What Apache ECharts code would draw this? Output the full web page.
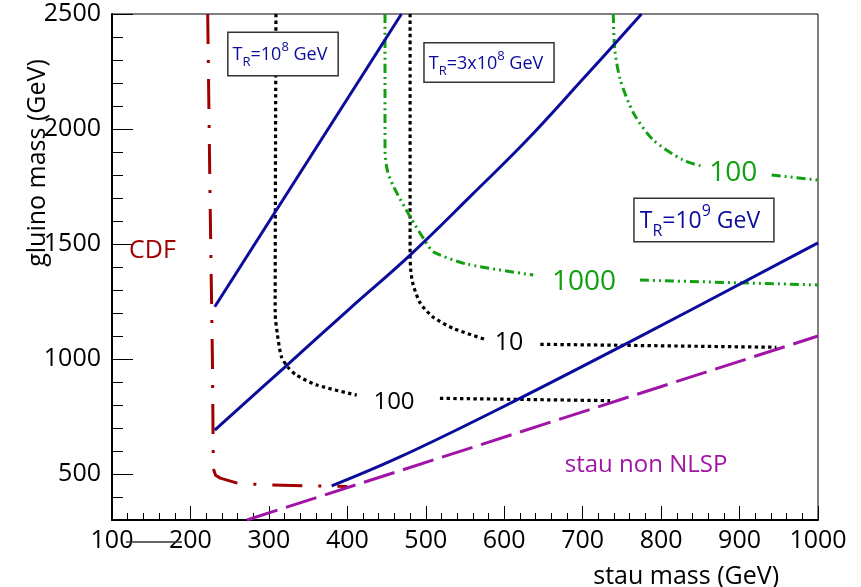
<!DOCTYPE html>
<html>
<head>
<meta charset="utf-8">
<script src="https://cdn.jsdelivr.net/npm/echarts@6/dist/echarts.min.js"></script>
<style>
  html, body { margin: 0; padding: 0; background: #fff; }
  #chart { width: 861px; height: 587px; }
</style>
</head>
<body>
<div id="chart"></div>
<script>
// Gluino mass vs stau mass plane, all values in GeV: [stau mass, gluino mass]
const cdfBound = [[222, 2500], [225, 1700], [228, 1000], [229, 600], [229, 525], [232, 495], [238, 482], [260, 460], [300, 452], [350, 448], [400, 446]];
const tr1e8 = [[231, 1227], [469, 2500]];
const tr3e8 = [[231, 691], [320, 964], [401, 1213], [480, 1452], [560, 1718], [629, 1952], [700, 2216], [775, 2500]];
const tr1e9 = [[380, 448], [467, 574], [595, 786], [765, 1083], [1000, 1505]];
const stauNonNlsp = [[272, 300], [1000, 1100]];

// dotted contours (label "100" and "10"), split where the label sits
const dot100Left = [[309, 2500], [308, 1200], [311, 1104], [316, 1010], [324, 965], [335, 930], [361, 887], [412, 843]];
const dot100Right = [[518, 829], [735, 819]];
const dot10Left = [[480, 2500], [480, 1452], [481, 1380], [484, 1322], [493, 1243], [509, 1183], [535, 1133], [578, 1083]];
const dot10Right = [[646, 1064], [947, 1051]];

// dash-dot-dot contours (label "1000" and "100")
const green1000Left = [[448, 2500], [448, 1909], [451, 1820], [459, 1749], [480, 1619], [501, 1503], [510, 1465], [552, 1413], [637, 1365]];
const green1000Right = [[773, 1343], [892, 1332], [1000, 1322]];
const green100Left = [[739, 2500], [741, 2343], [748, 2213], [765, 2068], [790, 1952], [828, 1865], [854, 1836]];
const green100Right = [[941, 1800], [1000, 1778]];

// axis tick values
const yLabelValues = [500, 1000, 1500, 2000, 2500];

// annotations anchored in data coordinates
const noteTexts = ['CDF', 'stau non NLSP', '100', '1000', '100', '10'];
const noteX = [151.6, 780.8, 892.1, 701.7, 459.5, 606.1];
const noteY = [1470, 539, 1809, 1335, 811, 1068];

// reheating-temperature boxes: [mantissa prefix, exponent]
const boxPrefix = ['10', '3x10', '10'];
const boxExponent = ['8', '8', '9'];
const boxX = [318.0, 580.6, 854.6];
const boxY = [2326, 2289, 1604];

const FONT = 'Open Sans';
const RED = '#a00000', BLUE = '#0c0c9c', GREEN = '#12a012', MAGENTA = '#a015a6', BLACK = '#000';

function curve(data, color, width, dash, smooth) {
  return {
    type: 'line', data: data, showSymbol: false, symbol: 'none',
    smooth: smooth || false, silent: true, z: 3,
    lineStyle: { color: color, width: width, type: dash, cap: 'butt', join: 'round' }
  };
}

const noteStyles = [
  { color: RED, fontSize: 25 },
  { color: MAGENTA, fontSize: 24 },
  { color: GREEN, fontSize: 28 },
  { color: GREEN, fontSize: 28 },
  { color: BLACK, fontSize: 24 },
  { color: BLACK, fontSize: 25 }
];

const boxStyles = [
  { main: 18, small: 13, line: 28, supLine: 13, subLine: 15, padding: [8, 10, 6, 4] },
  { main: 18, small: 13, line: 28, supLine: 13, subLine: 15, padding: [6, 10, 4, 4] },
  { main: 23, small: 16, line: 36, supLine: 21, subLine: 16, padding: [4, 13, 2, 5] }
];

const DASH_CDF = [30, 16, 3, 16];
const DASH_DOT = [3.4, 3.3];
const DASH_GREEN = [9, 4, 2, 4, 2, 4];
const DASH_LONG = [32, 9];

const series = [
  curve(cdfBound, RED, 3, DASH_CDF),
  curve(stauNonNlsp, MAGENTA, 3, DASH_LONG),
  curve(dot100Left, BLACK, 3.2, DASH_DOT, 0.25),
  curve(dot100Right, BLACK, 3.2, DASH_DOT),
  curve(dot10Left, BLACK, 3.2, DASH_DOT, 0.25),
  curve(dot10Right, BLACK, 3.2, DASH_DOT),
  curve(green1000Left, GREEN, 3, DASH_GREEN, 0.25),
  curve(green1000Right, GREEN, 3, DASH_GREEN),
  curve(green100Left, GREEN, 3, DASH_GREEN, 0.25),
  curve(green100Right, GREEN, 3, DASH_GREEN),
  curve(tr1e8, BLUE, 3, 'solid'),
  curve(tr3e8, BLUE, 3, 'solid', 0.4),
  curve(tr1e9, BLUE, 3, 'solid', 0.4)
];

noteTexts.forEach(function (t, i) {
  const st = noteStyles[i];
  series.push({
    type: 'scatter', silent: true, z: 10, symbolSize: 0,
    itemStyle: { color: st.color },
    data: [{ value: [noteX[i], noteY[i]] }],
    label: {
      show: true, position: 'inside', formatter: t, opacity: 1,
      color: st.color, fontSize: st.fontSize, fontFamily: FONT,
      textBorderWidth: 0, textBorderColor: 'transparent', textShadowBlur: 0
    }
  });
});

boxPrefix.forEach(function (p, i) {
  const st = boxStyles[i];
  series.push({
    type: 'scatter', silent: true, z: 12, symbolSize: 0,
    itemStyle: { color: BLUE },
    data: [{ value: [boxX[i], boxY[i]] }],
    label: {
      show: true, position: 'inside', opacity: 1,
      formatter: '{m|T}{sub|R}{m|=' + p + '}{sup|' + boxExponent[i] + '}{m| GeV}',
      backgroundColor: '#fff', borderColor: '#333', borderWidth: 1.5,
      padding: st.padding, textBorderWidth: 0, textBorderColor: 'transparent',
      rich: {
        m: { fontSize: st.main, fontFamily: FONT, color: BLUE, lineHeight: st.line, verticalAlign: 'middle', textBorderWidth: 0 },
        sub: { fontSize: st.small, fontFamily: FONT, color: BLUE, lineHeight: st.subLine, verticalAlign: 'bottom', textBorderWidth: 0 },
        sup: { fontSize: st.small, fontFamily: FONT, color: BLUE, lineHeight: st.supLine, verticalAlign: 'top', textBorderWidth: 0 }
      }
    }
  });
});

const chart = echarts.init(document.getElementById('chart'), null, { renderer: 'canvas' });
chart.setOption({
  animation: false,
  backgroundColor: '#fff',
  grid: {
    left: 112, right: 43, top: 14, bottom: 67,
    containLabel: false, outerBoundsMode: 'none',
    show: true, borderColor: '#000', borderWidth: 1, backgroundColor: '#fff'
  },
  xAxis: {
    type: 'value', min: 100, max: 1000, interval: 100,
    axisLine: { show: true, onZero: false, lineStyle: { color: '#000', width: 2 } },
    axisTick: { show: true, inside: true, length: 14, lineStyle: { color: '#000', width: 1 } },
    minorTick: { show: true, splitNumber: 5, length: 7, lineStyle: { color: '#000', width: 1 } },
    splitLine: { show: false },
    axisLabel: {
      show: true, margin: 8, color: '#000', fontSize: 25, fontFamily: FONT,
      showMinLabel: true, showMaxLabel: true, hideOverlap: false,
      formatter: function (v) { return String(v); }
    }
  },
  yAxis: [
    {
      type: 'value', min: 300, max: 2500, interval: 100,
      axisLine: { show: true, onZero: false, lineStyle: { color: '#000', width: 2 } },
      axisTick: { show: true, inside: true, length: 11, lineStyle: { color: '#000', width: 1 } },
      splitLine: { show: false },
      axisLabel: {
        show: true, margin: 11, color: '#000', fontSize: 25, fontFamily: FONT,
        showMinLabel: true, showMaxLabel: true, hideOverlap: false,
        formatter: function (v) { return yLabelValues.indexOf(v) >= 0 ? String(v) : ''; }
      }
    },
    {
      type: 'value', min: 300, max: 2500, position: 'left', offset: 0,
      axisLine: { show: false },
      axisTick: { show: true, inside: true, length: 21, customValues: yLabelValues, lineStyle: { color: '#000', width: 1 } },
      axisLabel: { show: false },
      splitLine: { show: false }
    }
  ],
  graphic: [
    {
      type: 'text', x: 38, y: 163, rotation: Math.PI / 2, z: 20,
      style: { text: 'gluino mass (GeV)', fontSize: 25, fontFamily: FONT, fill: '#000',
               align: 'center', verticalAlign: 'middle', textAlign: 'center', textVerticalAlign: 'middle' }
    },
    {
      type: 'text', x: 779, y: 577, z: 20,
      style: { text: 'stau mass (GeV)', fontSize: 25, fontFamily: FONT, fill: '#000',
               align: 'right', verticalAlign: 'middle', textAlign: 'right', textVerticalAlign: 'middle' }
    },
    {
      type: 'line', z: 20,
      shape: { x1: 126, y1: 542, x2: 182, y2: 542 },
      style: { stroke: '#333', lineWidth: 1.5 }
    }
  ],
  series: series
});
</script>
</body>
</html>
